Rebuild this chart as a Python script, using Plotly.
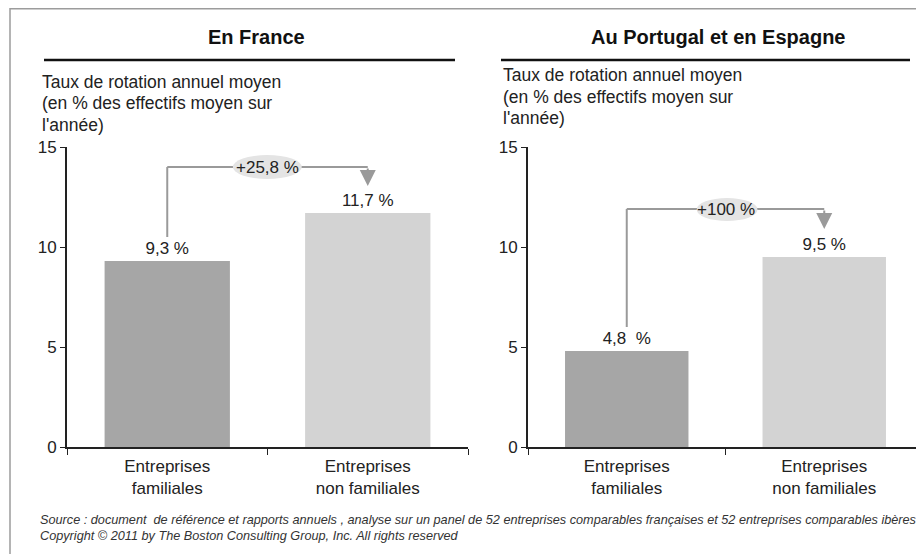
import plotly.graph_objects as go

W, H = 924, 554
OFF = 8  # page body margin of the rendered html

# ---------------- data ----------------
categories = ["Entreprises<br>familiales", "Entreprises<br>non familiales"]
france_values = [9.3, 11.7]
france_labels = ["9,3 %", "11,7 %"]
iberia_values = [4.8, 9.5]
iberia_labels = ["4,8  %", "9,5 %"]
france_change = "+25,8 %"
iberia_change = "+100 %"
y_ticks = [0, 5, 10, 15]
bar_colors = ["#a6a6a6", "#d3d3d3"]
panel_titles = ["En France", "Au Portugal et en Espagne"]
axis_label_lines = ["Taux de rotation annuel moyen", "(en % des effectifs moyen sur", "l'année)"]
source_lines = [
    "Source : document  de référence et rapports annuels , analyse sur un panel de 52 entreprises comparables françaises et 52 entreprises comparables ibères",
    "Copyright © 2011 by The Boston Consulting Group, Inc. All rights reserved",
]

FONT = "Liberation Sans, Arial, sans-serif"
TXT = "#222222"
AX = "#222222"
ARROW = "#9a9a9a"


def px(x):
    return (x - OFF) / W


def py(y):
    return 1 - (y - OFF) / H


fig = go.Figure()

for vals, labs, xa, ya in [
    (france_values, france_labels, "x", "y"),
    (iberia_values, iberia_labels, "x2", "y2"),
]:
    fig.add_trace(go.Bar(
        x=categories, y=vals, text=labs, textposition="outside",
        textfont=dict(size=17, color=TXT, family=FONT),
        marker=dict(color=bar_colors, line=dict(width=0)),
        width=0.625, cliponaxis=False, constraintext="none",
        xaxis=xa, yaxis=ya, showlegend=False, hoverinfo="skip",
    ))

ydom = [py(447), py(147)]


def xaxis(domain, anchor):
    return dict(
        domain=domain, anchor=anchor, type="category", range=[-0.5, 1.5],
        showline=True, linecolor=AX, linewidth=1.5, automargin=False,
        ticks="outside", tickson="boundaries", ticklen=6, tickcolor=AX, tickwidth=1.2,
        ticklabelstandoff=3,
        tickfont=dict(size=17, color=TXT, family=FONT),
        showgrid=False, zeroline=False, fixedrange=True,
    )


def yaxis(anchor):
    return dict(
        domain=ydom, anchor=anchor, range=[0, 15], tickvals=y_ticks,
        showline=True, linecolor=AX, linewidth=2, automargin=False,
        ticks="outside", ticklen=5, tickcolor=AX, tickwidth=1.2,
        tickfont=dict(size=17, color=TXT, family=FONT),
        showgrid=False, zeroline=False, fixedrange=True,
    )


shapes = []
annotations = []

# frame
shapes.append(dict(type="rect", xref="paper", yref="paper",
                   x0=px(10), x1=px(W + 30), y0=py(H + 30), y1=py(8.75),
                   line=dict(color="#9c9c9c", width=1.5), fillcolor="rgba(0,0,0,0)"))

# titles & underlines
for title, cx, x0, x1 in [(panel_titles[0], 256, 44, 455), (panel_titles[1], 718, 501, 910)]:
    annotations.append(dict(xref="paper", yref="paper", x=px(cx), y=py(37),
                            text="<b>%s</b>" % title, showarrow=False,
                            xanchor="center", yanchor="middle",
                            font=dict(size=20, color="#111111", family=FONT)))
    shapes.append(dict(type="line", xref="paper", yref="paper",
                       x0=px(x0), x1=px(x1), y0=py(60), y1=py(60),
                       line=dict(color="#111111", width=2.5)))

# axis label (3 lines each)
for x0, ys in [(40, [82, 103, 125]), (501, [75, 97, 118])]:
    for line, yy in zip(axis_label_lines, ys):
        annotations.append(dict(xref="paper", yref="paper", x=px(x0), y=py(yy),
                                text=line, showarrow=False, xanchor="left", yanchor="middle",
                                font=dict(size=17.5, color=TXT, family=FONT)))

# brackets
for xa, ya, v0, vtop, vtip, lab, ell in [
    ("x", "y", 10.5, 14.0, 13.05, france_change, (0.327, 0.671, 13.4, 14.6)),
    ("x2", "y2", 6.0, 11.9, 10.9, iberia_change, (0.354, 0.662, 11.3, 12.45)),
]:
    line = dict(color=ARROW, width=2)
    shapes.append(dict(type="line", xref=xa, yref=ya, x0=0, x1=0, y0=v0, y1=vtop, line=line))
    shapes.append(dict(type="line", xref=xa, yref=ya, x0=0, x1=1, y0=vtop, y1=vtop, line=line))
    annotations.append(dict(xref=xa, yref=ya, x=1, y=vtip, axref=xa, ayref=ya, ax=1, ay=vtop,
                            text="", showarrow=True, arrowhead=2, arrowsize=1.6,
                            arrowwidth=2, arrowcolor=ARROW, standoff=0, startstandoff=0))
    shapes.append(dict(type="circle", xref=xa, yref=ya, x0=ell[0], x1=ell[1], y0=ell[2], y1=ell[3],
                       fillcolor="#e4e4e4", line=dict(width=0)))
    annotations.append(dict(xref=xa, yref=ya, x=0.5, y=vtop, text=lab, showarrow=False,
                            xanchor="center", yanchor="middle",
                            font=dict(size=17, color=TXT, family=FONT)))

# source
for line, yy in zip(source_lines, [520, 536]):
    annotations.append(dict(xref="paper", yref="paper", x=px(38), y=py(yy),
                            text="<i>%s</i>" % line, showarrow=False,
                            xanchor="left", yanchor="middle",
                            font=dict(size=12.7, color="#333333", family=FONT)))

fig.update_layout(
    width=W, height=H, margin=dict(l=0, r=0, t=0, b=0, autoexpand=False),
    paper_bgcolor="white", plot_bgcolor="rgba(0,0,0,0)",
    font=dict(family=FONT, color=TXT),
    xaxis=xaxis([px(67), px(468)], "y"),
    yaxis=yaxis("x"),
    xaxis2=xaxis([px(528), px(923)], "y2"),
    yaxis2=yaxis("x2"),
    bargap=0.375,
    shapes=shapes, annotations=annotations,
    showlegend=False,
)

fig.write_html("out.html")
